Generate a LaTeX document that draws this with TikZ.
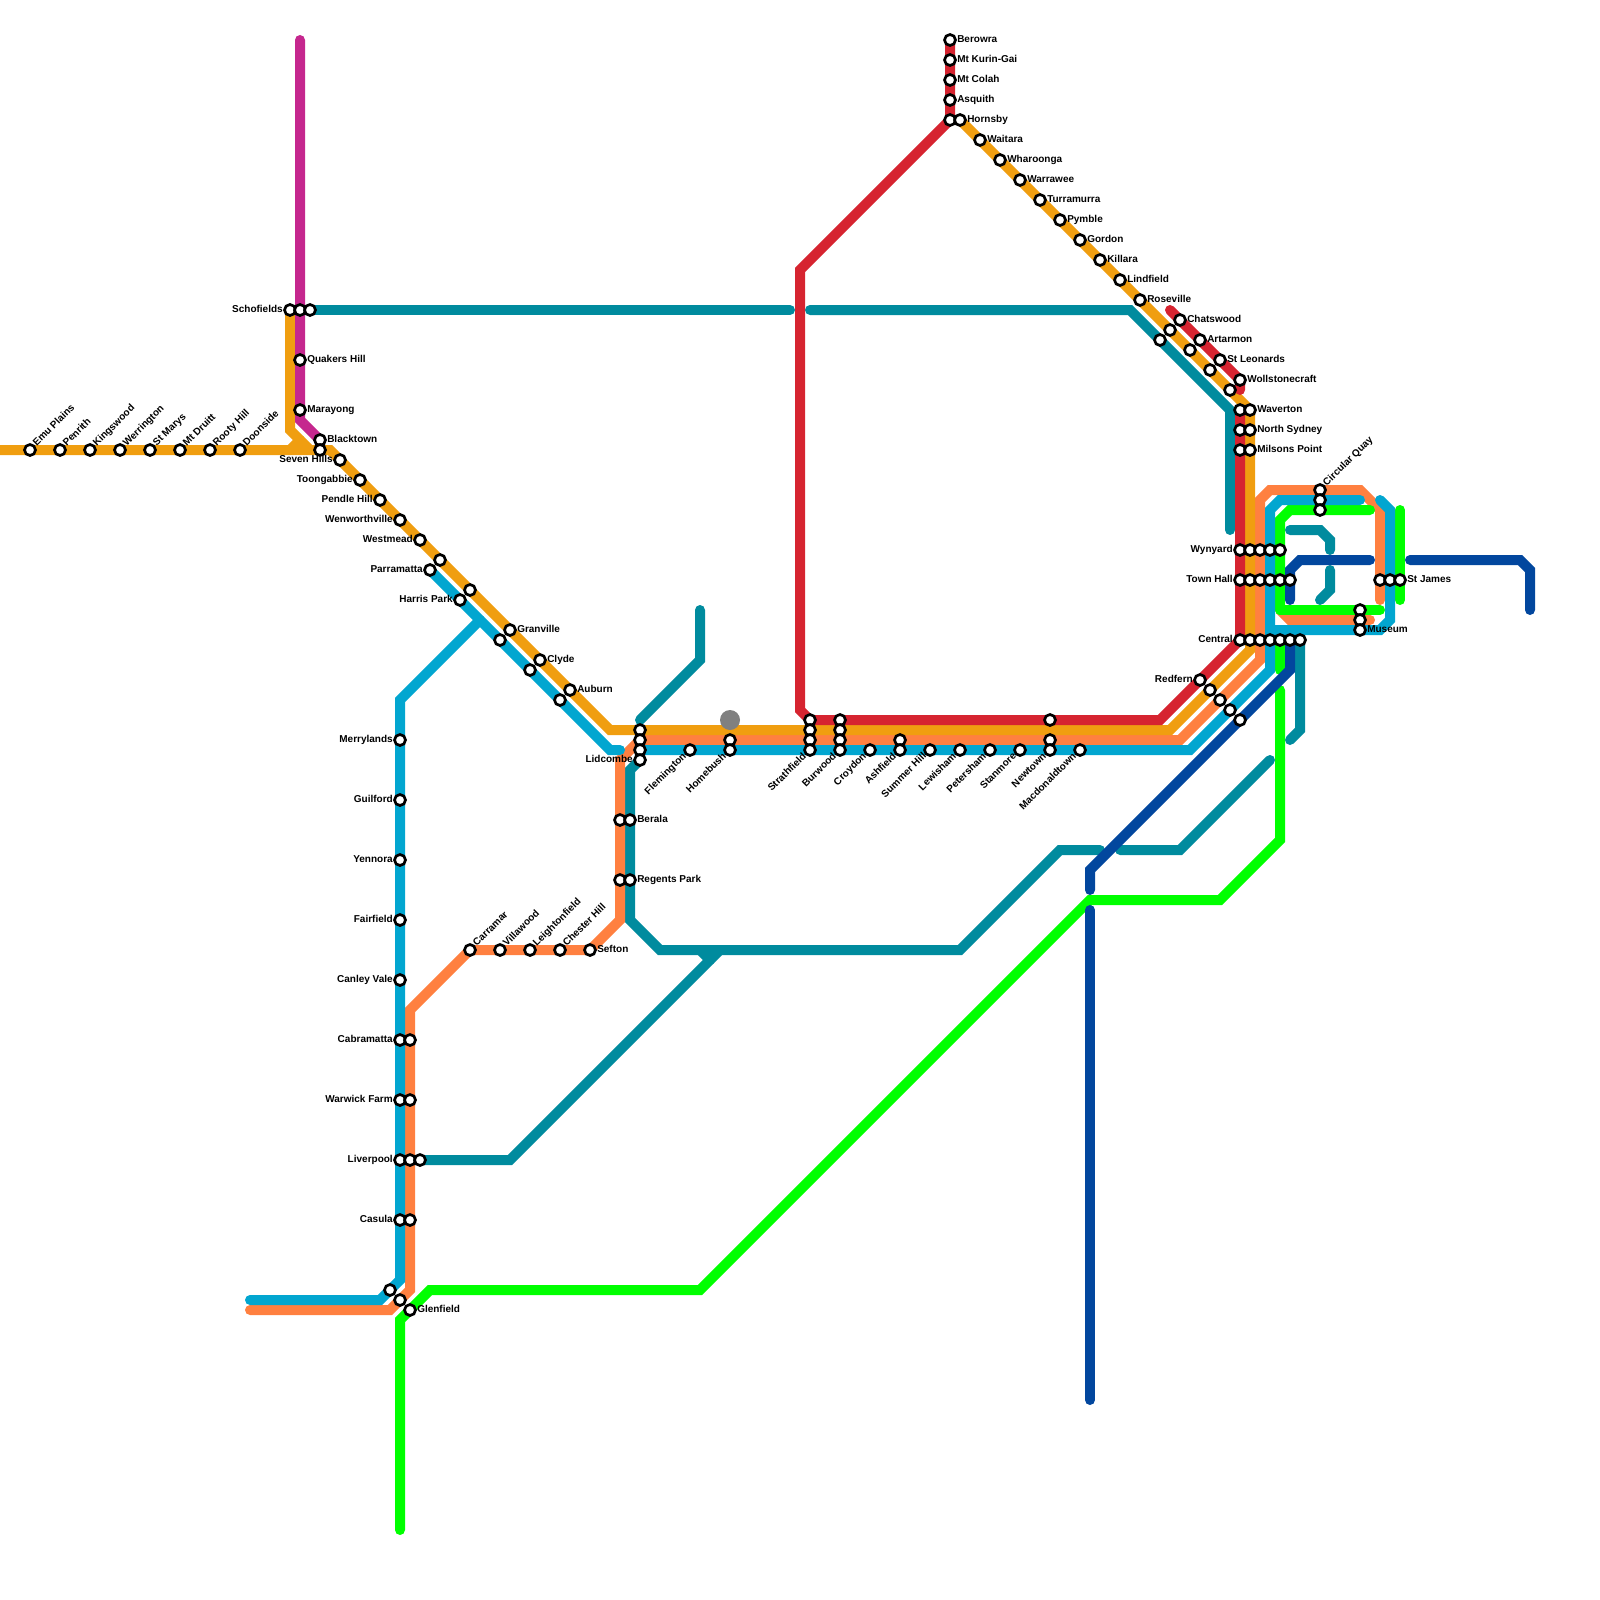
\documentclass[tikz,border=0pt]{standalone}
\usepackage{fontspec}
\setmainfont{Liberation Sans}
\usetikzlibrary{backgrounds}
\definecolor{linegold}{RGB}{240,158,16}
\definecolor{linered}{RGB}{214,36,48}
\definecolor{lineteal}{RGB}{0,139,158}
\definecolor{lineblue}{RGB}{2,166,208}
\definecolor{lineorange}{RGB}{255,128,64}
\definecolor{linegreen}{RGB}{0,255,0}
\definecolor{linenavy}{RGB}{2,71,158}
\definecolor{linemagenta}{RGB}{197,39,142}
\begin{document}
\begin{tikzpicture}[x=5pt, y=-5pt]
    \tikzset{
        route/.style={draw=#1, line width=5pt, line cap=round, line join=miter},
        stn/.style={circle, draw=black, fill=white, line width=1.35pt, minimum size=5.5pt, inner sep=0pt, label distance=1.5pt},
        nametext/.style={font=\fontsize{5}{6}\selectfont\bfseries, inner sep=0pt, text height=3.6pt, text depth=1pt},
        stnR/.style={stn, label={[nametext, anchor=west]0:#1}},
        stnL/.style={stn, label={[nametext, anchor=east]180:#1}},
        stnU/.style={stn, label={[nametext, rotate=45, anchor=west]45:#1}},
        stnD/.style={stn, label={[nametext, rotate=45, anchor=east]225:#1}}
    }
    \useasboundingbox (0,0) rectangle (160,160);
    % western line
    \node[stnU=Emu Plains] (emuplains) at (3,45) {};
    \node[stnU=Penrith] (penrith) at (6,45) {};
    \node[stnU=Kingswood] (kingswood) at (9,45) {};
    \node[stnU=Werrington] (werrington) at (12,45) {};
    \node[stnU=St Marys] (stmarys) at (15,45) {};
    \node[stnU=Mt Druitt] (mtdruitt) at (18,45) {};
    \node[stnU=Rooty Hill] (rootyhill) at (21,45) {};
    \node[stnU=Doonside] (doonside) at (24,45) {};
    \node[stnL=Schofields] (schofields) at (29,31) {};
    \node[stn] (schofieldsB) at (30,31) {};
    \node[stn] (schofieldsC) at (31,31) {};
    \node[stnR=Quakers Hill] (quakershill) at (30,36) {};
    \node[stnR=Marayong] (marayong) at (30,41) {};
    \node[stnR=Blacktown] (blacktown) at (32,44) {};
    \node[stn] (blacktownB) at (32,45) {};
    \node[stnL=Seven Hills] (sevenhills) at (34,46) {};
    \node[stnL=Toongabbie] (toongabbie) at (36,48) {};
    \node[stnL=Pendle Hill] (pendlehill) at (38,50) {};
    \node[stnL=Wenworthville] (wenworthville) at (40,52) {};
    \node[stnL=Westmead] (westmead) at (42,54) {};
    \node[stn] (parramattaB) at (44,56) {};
    \node[stnL=Parramatta] (parramatta) at (43,57) {};
    \node[stn] (harrisparkB) at (47,59) {};
    \node[stnL=Harris Park] (harrispark) at (46,60) {};
    \node[stnR=Granville] (granville) at (51,63) {};
    \node[stn] (granvilleB) at (50,64) {};
    \node[stnR=Clyde] (clyde) at (54,66) {};
    \node[stn] (clydeB) at (53,67) {};
    \node[stnR=Auburn] (auburn) at (57,69) {};
    \node[stn] (auburnB) at (56,70) {};
    % south west
    \node[stnL=Merrylands] (merrylands) at (40,74) {};
    \node[stnL=Guilford] (guilford) at (40,80) {};
    \node[stnL=Yennora] (yennora) at (40,86) {};
    \node[stnL=Fairfield] (fairfield) at (40,92) {};
    \node[stnL=Canley Vale] (canleyvale) at (40,98) {};
    \node[stnL=Cabramatta] (cabramatta) at (40,104) {};
    \node[stn] (cabramattaB) at (41,104) {};
    \node[stnL=Warwick Farm] (warwickfarm) at (40,110) {};
    \node[stn] (warwickfarmB) at (41,110) {};
    \node[stnL=Liverpool] (liverpool) at (40,116) {};
    \node[stn] (liverpoolB) at (41,116) {};
    \node[stn] (liverpoolC) at (42,116) {};
    \node[stnL=Casula] (casula) at (40,122) {};
    \node[stn] (casulaB) at (41,122) {};
    \node[stn] (junctionA) at (39,129) {};
    \node[stn] (junctionB) at (40,130) {};
    \node[stnR=Glenfield] (glenfield) at (41,131) {};
    \node[stnU=Carramar] (carramar) at (47,95) {};
    \node[stnU=Villawood] (villawood) at (50,95) {};
    \node[stnU=Leightonfield] (leightonfield) at (53,95) {};
    \node[stnU=Chester Hill] (chesterhill) at (56,95) {};
    \node[stnR=Sefton] (sefton) at (59,95) {};
    \node[stn] (beralaB) at (62,82) {};
    \node[stnR=Berala] (berala) at (63,82) {};
    \node[stn] (regentsparkB) at (62,88) {};
    \node[stnR=Regents Park] (regentspark) at (63,88) {};
    % inner west
    \node[stn] (lidcombeA) at (64,73) {};
    \node[stn] (lidcombeB) at (64,74) {};
    \node[stn] (lidcombeC) at (64,75) {};
    \node[stnL=Lidcombe] (lidcombe) at (64,76) {};
    \node[stnD=Flemington] (flemington) at (69,75) {};
    \node[circle, fill=gray, minimum size=10pt, inner sep=0pt] (homebushdot) at (73,72) {};
    \node[stn] (homebushB) at (73,74) {};
    \node[stnD=Homebush] (homebush) at (73,75) {};
    \node[stn] (strathfieldA) at (81,72) {};
    \node[stn] (strathfieldB) at (81,73) {};
    \node[stn] (strathfieldC) at (81,74) {};
    \node[stnD=Strathfield] (strathfield) at (81,75) {};
    \node[stn] (burwoodA) at (84,72) {};
    \node[stn] (burwoodB) at (84,73) {};
    \node[stn] (burwoodC) at (84,74) {};
    \node[stnD=Burwood] (burwood) at (84,75) {};
    \node[stnD=Croydon] (croydon) at (87,75) {};
    \node[stn] (ashfieldB) at (90,74) {};
    \node[stnD=Ashfield] (ashfield) at (90,75) {};
    \node[stnD=Summer Hill] (summerhill) at (93,75) {};
    \node[stnD=Lewisham] (lewisham) at (96,75) {};
    \node[stnD=Petersham] (petersham) at (99,75) {};
    \node[stnD=Stanmore] (stanmore) at (102,75) {};
    \node[stn] (newtownA) at (105,72) {};
    \node[stn] (newtownB) at (105,74) {};
    \node[stnD=Newtown] (newtown) at (105,75) {};
    \node[stnD=Macdonaldtown] (macdonaldtown) at (108,75) {};
    \node[stnL=Redfern] (redfern) at (120,68) {};
    \node[stn] (redfernB) at (121,69) {};
    \node[stn] (redfernC) at (122,70) {};
    \node[stn] (redfernD) at (123,71) {};
    \node[stn] (redfernE) at (124,72) {};
    % north shore
    \node[stnR=Berowra] (berowra) at (95,4) {};
    \node[stnR=Mt Kurin-Gai] (mtkuringai) at (95,6) {};
    \node[stnR=Mt Colah] (mtcolah) at (95,8) {};
    \node[stnR=Asquith] (asquith) at (95,10) {};
    \node[stn] (hornsbyB) at (95,12) {};
    \node[stnR=Hornsby] (hornsby) at (96,12) {};
    \node[stnR=Waitara] (waitara) at (98,14) {};
    \node[stnR=Wharoonga] (wharoonga) at (100,16) {};
    \node[stnR=Warrawee] (warrawee) at (102,18) {};
    \node[stnR=Turramurra] (turramurra) at (104,20) {};
    \node[stnR=Pymble] (pymble) at (106,22) {};
    \node[stnR=Gordon] (gordon) at (108,24) {};
    \node[stnR=Killara] (killara) at (110,26) {};
    \node[stnR=Lindfield] (lindfield) at (112,28) {};
    \node[stnR=Roseville] (roseville) at (114,30) {};
    \node[stnR=Chatswood] (chatswood) at (118,32) {};
    \node[stn] (chatswoodB) at (117,33) {};
    \node[stn] (chatswoodC) at (116,34) {};
    \node[stnR=Artarmon] (artarmon) at (120,34) {};
    \node[stn] (artarmonB) at (119,35) {};
    \node[stnR=St Leonards] (stleonards) at (122,36) {};
    \node[stn] (stleonardsB) at (121,37) {};
    \node[stnR=Wollstonecraft] (wollstonecraft) at (124,38) {};
    \node[stn] (wollstonecraftB) at (123,39) {};
    \node[stn] (wavertonB) at (124,41) {};
    \node[stnR=Waverton] (waverton) at (125,41) {};
    \node[stn] (northsydneyB) at (124,43) {};
    \node[stnR=North Sydney] (northsydney) at (125,43) {};
    \node[stn] (milsonspointB) at (124,45) {};
    \node[stnR=Milsons Point] (milsonspoint) at (125,45) {};
    % city
    \node[stnL=Wynyard] (wynyard) at (124,55) {};
    \node[stn] (wynyardB) at (125,55) {};
    \node[stn] (wynyardC) at (126,55) {};
    \node[stn] (wynyardD) at (127,55) {};
    \node[stn] (wynyardE) at (128,55) {};
    \node[stnL=Town Hall] (townhall) at (124,58) {};
    \node[stn] (townhallB) at (125,58) {};
    \node[stn] (townhallC) at (126,58) {};
    \node[stn] (townhallD) at (127,58) {};
    \node[stn] (townhallE) at (128,58) {};
    \node[stn] (townhallF) at (129,58) {};
    \node[stnL=Central] (central) at (124,64) {};
    \node[stn] (centralB) at (125,64) {};
    \node[stn] (centralC) at (126,64) {};
    \node[stn] (centralD) at (127,64) {};
    \node[stn] (centralE) at (128,64) {};
    \node[stn] (centralF) at (129,64) {};
    \node[stn] (centralG) at (130,64) {};
    \node[stnU=Circular Quay] (circularquay) at (132,49) {};
    \node[stn] (circularquayB) at (132,50) {};
    \node[stn] (circularquayC) at (132,51) {};
    \node[stn] (stjamesB) at (138,58) {};
    \node[stn] (stjamesC) at (139,58) {};
    \node[stnR=St James] (stjames) at (140,58) {};
    \node[stn] (museumB) at (136,61) {};
    \node[stn] (museumC) at (136,62) {};
    \node[stnR=Museum] (museum) at (136,63) {};
    \begin{scope}[on background layer]
        % teal
        \draw[route=lineteal] (schofieldsC.center) -- (79,31);
        \draw[route=lineteal] (81,31) -- (113,31) -- (123,41) -- (123,53);
        \draw[route=lineteal] (liverpoolC.center) -- (51,116) -- (72,95);
        \draw[route=lineteal] (70,95) -- (71,96);
        \draw[route=lineteal] (lidcombe.center) -- (63,77) -- (63,92) -- (66,95) -- (96,95) -- (106,85) -- (110,85);
        \draw[route=lineteal] (112,85) -- (118,85) -- (127,76);
        \draw[route=lineteal] (64,72) -- (70,66) -- (70,61);
        \draw[route=lineteal] (129,53) -- (132,53) -- (133,54) -- (133,55);
        \draw[route=lineteal] (133,57) -- (133,59) -- (132,60);
        \draw[route=lineteal] (centralG.center) -- (130,73) -- (129,74);
        % orange
        \draw[route=lineorange] (25,131) -- (39,131) -- (41,129) -- (41,101) -- (carramar.center) -- (sefton.center) -- (62,92) -- (62,76) -- (lidcombeB.center) -- (118,74) -- (126,66) -- (126,50) -- (127,49) -- (136,49) -- (138,51) -- (138,60);
        \draw[route=lineorange] (128,61) -- (129,62) -- (137,62);
        % green
        \draw[route=linegreen] (137,51) -- (129,51) -- (128,52) -- (128,61);
        \draw[route=linegreen] (128,61) -- (138,61);
        \draw[route=linegreen] (centralE.center) -- (128,67);
        \draw[route=linegreen] (128,69) -- (128,84) -- (122,90) -- (109,90) -- (70,129) -- (43,129) -- (40,132) -- (40,153);
        \draw[route=linegreen] (140,51) -- (140,60);
        % navy
        \draw[route=linenavy] (129,60) -- (129,57) -- (130,56) -- (137,56);
        \draw[route=linenavy] (141,56) -- (152,56) -- (153,57) -- (153,61);
        \draw[route=linenavy] (centralF.center) -- (129,67) -- (109,87) -- (109,89);
        \draw[route=linenavy] (109,91) -- (109,140);
        % blue
        \draw[route=lineblue] (25,130) -- (38,130) -- (40,128) -- (40,70) -- (48,62);
        \draw[route=lineblue] (parramatta.center) -- (61,75) -- (62,75);
        \draw[route=lineblue] (lidcombeC.center) -- (119,75) -- (127,67) -- (127,51) -- (128,50) -- (136,50);
        \draw[route=lineblue] (138,50) -- (139,51) -- (139,62) -- (138,63) -- (127,63);
        % gold
        \draw[route=linegold] (0,45) -- (33,45) -- (61,73) -- (117,73) -- (125,65) -- (125,41) -- (hornsby.center);
        \draw[route=linegold] (schofields.center) -- (29,43) -- (31,45);
        \draw[route=linegold] (29,45) -- (30,44);
        % red
        \draw[route=linered] (117,31) -- (124,38) -- (124,39);
        \draw[route=linered] (wavertonB.center) -- (central.center) -- (116,72) -- (81,72) -- (80,71) -- (80,27) -- (hornsbyB.center) -- (berowra.center);
        % magenta
        \draw[route=linemagenta] (30,4) -- (30,42) -- (blacktown.center);
    \end{scope}
\end{tikzpicture}
\end{document}
